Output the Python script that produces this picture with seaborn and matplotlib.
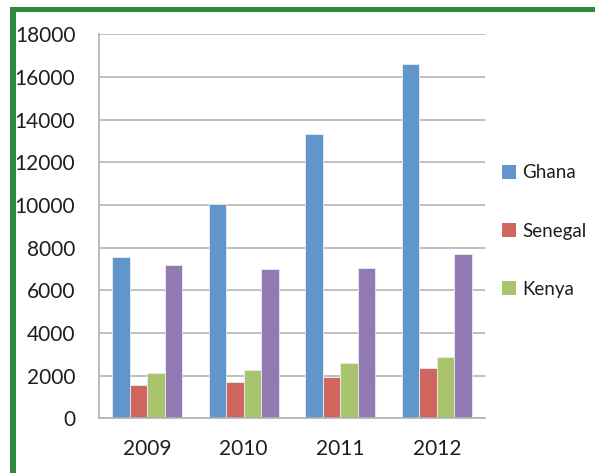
import matplotlib
matplotlib.use("Agg")
import matplotlib.pyplot as plt
import seaborn as sns
import pandas as pd
from matplotlib.patches import Rectangle, Patch

years = ["2009", "2010", "2011", "2012"]
series = ["Ghana", "Senegal", "Kenya", "Series 4"]
ghana = [7560, 10050, 13320, 16620]
senegal = [1540, 1680, 1930, 2340]
kenya = [2120, 2260, 2590, 2870]
series4 = [7170, 6980, 7040, 7710]
legend_labels = ["Ghana", "Senegal", "Kenya"]
yticks = [0, 2000, 4000, 6000, 8000, 10000, 12000, 14000, 16000, 18000]

colors = ["#6196CB", "#D0665E", "#A9C46C", "#9279B1"]

rows = []
for name, vals in zip(series, [ghana, senegal, kenya, series4]):
    for y, v in zip(years, vals):
        rows.append({"year": y, "series": name, "value": v})
df = pd.DataFrame(rows)

sns.set_theme(style="white")
plt.rcParams["font.family"] = ["Lato", "DejaVu Sans"]

fig = plt.figure(figsize=(5.95, 4.73), dpi=100)
ax = fig.add_axes([99/595, 1-418.3/473, (485-99)/595, (418.3-34.3)/473])

sns.barplot(data=df, x="year", y="value", hue="series", hue_order=series,
            order=years, palette=colors, width=0.725, ax=ax, legend=False,
            edgecolor="#E8EEF5", linewidth=0.6, saturation=1)

ax.set_ylim(0, 18000)
ax.set_xlim(-0.5, 3.5)
ax.set_yticks(yticks)
ax.set_yticklabels([str(t) for t in yticks])
ax.set_xlabel("")
ax.set_ylabel("")
ax.yaxis.grid(True, color="#B5B5B5", linewidth=1.2)
ax.set_axisbelow(True)
for s in ["top", "right"]:
    ax.spines[s].set_visible(False)
for s in ["left", "bottom"]:
    ax.spines[s].set_color("#B0B0B0")
    ax.spines[s].set_linewidth(1.2)
ax.tick_params(axis="y", length=3, color="#B0B0B0", pad=14, labelsize=15, labelcolor="#1E1E1E")
ax.tick_params(axis="x", length=0, pad=15, labelsize=15, labelcolor="#1E1E1E")

handles = [Patch(facecolor=c, edgecolor="none") for c in colors[:3]]
fig.legend(handles, legend_labels, loc="center left",
           bbox_to_anchor=(485/595, 1-231/473), frameon=False,
           fontsize=13.5, labelcolor="#1E1E1E", handlelength=0.75, handleheight=0.8,
           handletextpad=0.35, labelspacing=2.2)

green = "#2E8B3C"
fig.add_artist(Rectangle((10/595, 0), 5.5/595, 1-7/473, transform=fig.transFigure,
                         facecolor=green, edgecolor="none"))
fig.add_artist(Rectangle((10/595, 1-12.5/473), 1-10/595, 5.5/473, transform=fig.transFigure,
                         facecolor=green, edgecolor="none"))

fig.savefig("out.png", dpi=100)
